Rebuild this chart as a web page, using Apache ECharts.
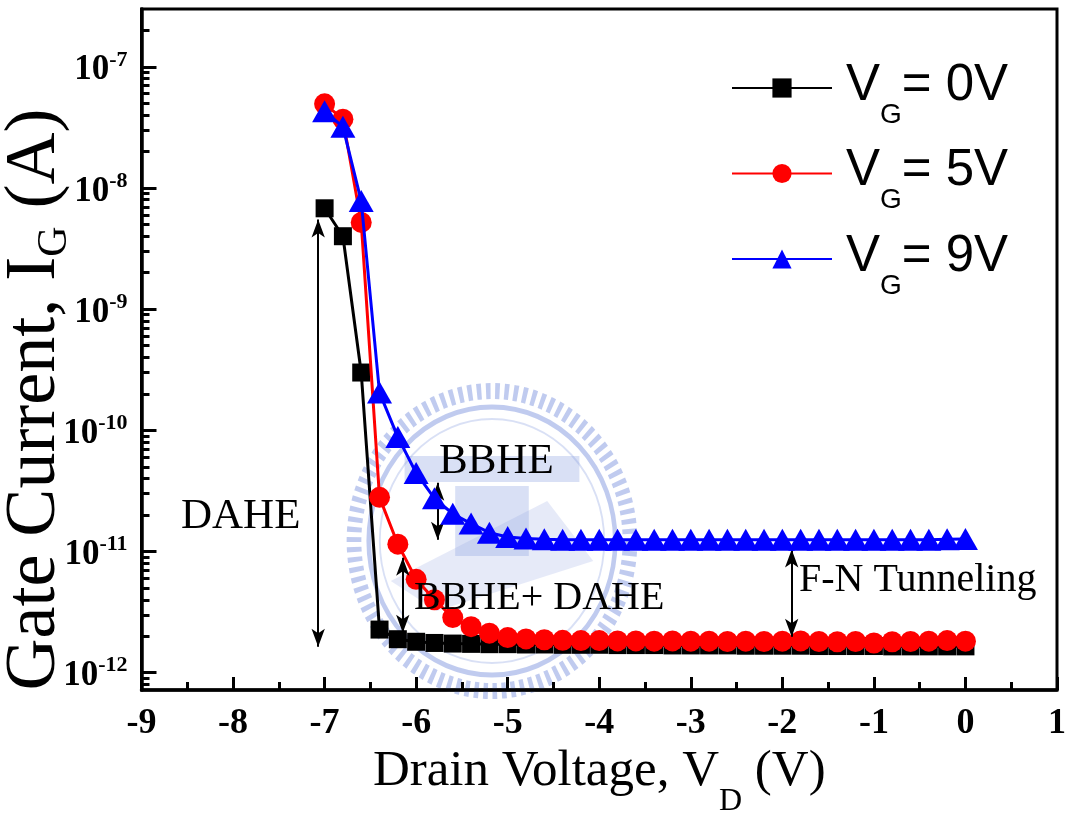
<!DOCTYPE html>
<html>
<head>
<meta charset="utf-8">
<script src="https://cdn.jsdelivr.net/npm/echarts@6/dist/echarts.min.js"></script>
<style>
html,body{margin:0;padding:0;background:#fff;}
#chart{width:1072px;height:820px;}
</style>
</head>
<body>
<div id="chart"></div>
<script>
// ---- data ----
const drainVoltage = [-7.0,-6.8,-6.6,-6.4,-6.2,-6.0,-5.8,-5.6,-5.4,-5.2,-5.0,-4.8,-4.6,-4.4,-4.2,-4.0,-3.8,-3.6,-3.4,-3.2,-3.0,-2.8,-2.6,-2.4,-2.2,-2.0,-1.8,-1.6,-1.4,-1.2,-1.0,-0.8,-0.6,-0.4,-0.2,0.0];
const igVG0 = [6.8e-9,4.0e-9,3.0e-10,2.27e-12,1.89e-12,1.80e-12,1.76e-12,1.74e-12,1.73e-12,1.72e-12,1.72e-12,1.71e-12,1.71e-12,1.70e-12,1.70e-12,1.70e-12,1.69e-12,1.69e-12,1.69e-12,1.68e-12,1.68e-12,1.68e-12,1.68e-12,1.67e-12,1.67e-12,1.67e-12,1.67e-12,1.66e-12,1.66e-12,1.66e-12,1.66e-12,1.65e-12,1.65e-12,1.65e-12,1.65e-12,1.65e-12];
const igVG5 = [4.95e-8,3.7e-8,5.2e-9,2.8e-11,1.15e-11,5.9e-12,4.0e-12,2.85e-12,2.4e-12,2.12e-12,1.95e-12,1.90e-12,1.87e-12,1.85e-12,1.84e-12,1.84e-12,1.83e-12,1.83e-12,1.82e-12,1.83e-12,1.82e-12,1.82e-12,1.81e-12,1.82e-12,1.81e-12,1.82e-12,1.83e-12,1.81e-12,1.80e-12,1.81e-12,1.76e-12,1.80e-12,1.81e-12,1.82e-12,1.84e-12,1.82e-12];
const igVG9 = [4.3e-8,3.2e-8,7.8e-9,2.05e-10,8.8e-11,4.45e-11,2.75e-11,2.05e-11,1.70e-11,1.43e-11,1.32e-11,1.28e-11,1.26e-11,1.25e-11,1.25e-11,1.25e-11,1.25e-11,1.25e-11,1.25e-11,1.25e-11,1.25e-11,1.25e-11,1.25e-11,1.25e-11,1.25e-11,1.25e-11,1.25e-11,1.25e-11,1.25e-11,1.25e-11,1.25e-11,1.25e-11,1.25e-11,1.25e-11,1.26e-11,1.27e-11];
const seriesNames = ['VG= 0V','VG= 5V','VG= 9V'];
const xTicks = [-9,-8,-7,-6,-5,-4,-3,-2,-1,0,1];
const yMajorTicks = [1e-12,1e-11,1e-10,1e-9,1e-8,1e-7];
const yMinorMultipliers = [2,3,4,5,6,7,8,9];
// annotation arrows: [x, yTop, yBottom]
const arrowDAHE = [-7.07, 5.5e-9, 1.64e-12];
const arrowBBHE = [-5.765, 3.7e-11, 1.25e-11];
const arrowBBHEDAHE = [-6.146, 8.9e-12, 2.14e-12];
const arrowFN = [-1.898, 1.04e-11, 1.98e-12];

const yMin = 7.2e-13, yMax = 3.0e-7;
const yMinor = [];
[-13,-12,-11,-10,-9,-8,-7].forEach(e => yMinorMultipliers.forEach(m => {
  const v = m * Math.pow(10, e);
  if (v > yMin && v < yMax) yMinor.push(v);
}));

const pair = ys => drainVoltage.map((x, i) => [x, ys[i]]);
const arrowLine = a => [{coord:[a[0], a[1]]},{coord:[a[0], a[2]]}];

const SERIF = 'Liberation Serif';
const SANS = 'Liberation Sans';

const chart = echarts.init(document.getElementById('chart'), null, {renderer:'canvas'});

const teethColor = 'rgba(140,160,225,0.55)';
const faint = 'rgba(140,160,225,0.33)';

chart.setOption({
  animation: false,
  backgroundColor: '#fff',
  grid: {left: 141.5, right: 15, top: 9, bottom: 130, show: true, borderColor: '#000', borderWidth: 3,
    containLabel: false, outerBoundsMode: 'none'},
  xAxis: {
    type: 'value', min: -9, max: 1, interval: 1,
    axisLine: {show: true, onZero: false, lineStyle: {color: '#000', width: 3.5}},
    axisTick: {show: true, inside: true, length: 13, lineStyle: {color: '#000', width: 3}},
    minorTick: {show: true, splitNumber: 2, length: 8, lineStyle: {color: '#000', width: 3}},
    splitLine: {show: false},
    axisLabel: {margin: 16, color: '#000', fontFamily: SERIF, fontWeight: 'bold', fontSize: 36,
      formatter: v => xTicks.includes(v) ? String(v) : ''},
    name: '{n|Drain Voltage, V}{s|D}{n| (V)}',
    nameLocation: 'middle', nameGap: 56, nameMoveOverlap: false,
    nameTextStyle: {rich: {
      n: {fontFamily: SERIF, fontSize: 51, color: '#000', lineHeight: 56, verticalAlign: 'top'},
      s: {fontFamily: SERIF, fontSize: 32, color: '#000', lineHeight: 34, padding: [40,0,0,0], verticalAlign: 'top'}
    }}
  },
  yAxis: [{
    type: 'log', min: yMin, max: yMax, logBase: 10,
    axisLine: {show: true, onZero: false, lineStyle: {color: '#000', width: 3.5}},
    axisTick: {show: true, inside: true, length: 15, customValues: yMajorTicks, lineStyle: {color: '#000', width: 3}},
    splitLine: {show: false},
    axisLabel: {margin: 14, customValues: yMajorTicks, color: '#000',
      formatter: v => '{b|10}{s|' + Math.round(Math.log10(v)) + '}',
      rich: {
        b: {fontFamily: SERIF, fontWeight: 'bold', fontSize: 35, color: '#000', lineHeight: 36, padding: [4,0,0,0], verticalAlign: 'top'},
        s: {fontFamily: SERIF, fontWeight: 'bold', fontSize: 22, color: '#000', lineHeight: 24, verticalAlign: 'top'}
      }},
    name: '{n|Gate Current, I}{s|G}{n| (A)}',
    nameLocation: 'middle', nameGap: 66, nameRotate: 90, nameMoveOverlap: false,
    nameTextStyle: {padding: [0, 100, 0, 0], rich: {
      n: {fontFamily: SERIF, fontSize: 72, color: '#000', lineHeight: 76, verticalAlign: 'top'},
      s: {fontFamily: SERIF, fontSize: 42, color: '#000', lineHeight: 46, padding: [34,0,0,0], verticalAlign: 'top'}
    }}
  }, {
    type: 'log', min: yMin, max: yMax, logBase: 10, position: 'left',
    axisLine: {show: false, onZero: false},
    axisTick: {show: true, inside: true, length: 8, customValues: yMinor, lineStyle: {color: '#000', width: 3}},
    axisLabel: {show: false},
    splitLine: {show: false}
  }],
  legend: {
    left: 726, top: 55, orient: 'vertical', itemWidth: 100, itemHeight: 24, itemGap: -1.5,
    data: seriesNames,
    formatter: name => '{v0|V}{g|G}{v|' + name.slice(2) + '}',
    textStyle: {rich: {
      v0: {fontFamily: SANS, fontSize: 51, color: '#000', lineHeight: 56, padding: [0,0,0,9], verticalAlign: 'top'},
      v: {fontFamily: SANS, fontSize: 51, color: '#000', lineHeight: 56, padding: [0,0,0,0], verticalAlign: 'top'},
      g: {fontFamily: SANS, fontSize: 28, color: '#000', lineHeight: 32, padding: [41,0,18,0], verticalAlign: 'top'}
    }}
  },
  graphic: [
    {type: 'group', x: 492, y: 541, scaleX: 0.92, z: 0, silent: true, children: [
      {type: 'circle', shape: {cx: 0, cy: 0, r: 150},
        style: {fill: 'none', stroke: teethColor, lineWidth: 16, lineDash: [5, 5]}},
      {type: 'circle', shape: {cx: 0, cy: 0, r: 134},
        style: {fill: 'none', stroke: teethColor, lineWidth: 5}},
      {type: 'circle', shape: {cx: 0, cy: 0, r: 122},
        style: {fill: 'none', stroke: faint, lineWidth: 2}},
      {type: 'rect', shape: {x: -95, y: -85, width: 190, height: 26}, style: {fill: faint}},
      {type: 'rect', shape: {x: -40, y: -55, width: 80, height: 70}, style: {fill: faint}},
      {type: 'polygon', shape: {points: [[-110, 40],[60, -40],[110, 20],[-60, 70]]},
        style: {fill: 'rgba(140,160,225,0.22)'}}
    ]},
    {type: 'text', z: 100, silent: true, left: 181, top: 495,
      style: {text: 'DAHE', font: '43px "Liberation Serif"', fill: '#000'}},
    {type: 'text', z: 100, silent: true, left: 439, top: 440,
      style: {text: 'BBHE', font: '43px "Liberation Serif"', fill: '#000'}},
    {type: 'text', z: 100, silent: true, left: 414, top: 578,
      style: {text: 'BBHE+ DAHE', font: '40px "Liberation Serif"', fill: '#000'}},
    {type: 'text', z: 100, silent: true, left: 799, top: 560,
      style: {text: 'F-N Tunneling', font: '40px "Liberation Serif"', fill: '#000'}}
  ],
  series: [
    {name: seriesNames[0], type: 'line', data: pair(igVG0), symbol: 'rect', symbolSize: 18,
      itemStyle: {color: '#000'}, lineStyle: {color: '#000', width: 3}, z: 3,
      markLine: {silent: true, symbol: ['arrow','arrow'], symbolSize: [10, 18], animation: false,
        lineStyle: {color: '#000', width: 2, type: 'solid'}, label: {show: false},
        data: [arrowLine(arrowDAHE), arrowLine(arrowBBHE), arrowLine(arrowBBHEDAHE), arrowLine(arrowFN)]}},
    {name: seriesNames[1], type: 'line', data: pair(igVG5), symbol: 'circle', symbolSize: 21,
      itemStyle: {color: '#ff0000'}, lineStyle: {color: '#ff0000', width: 3}, z: 4},
    {name: seriesNames[2], type: 'line', data: pair(igVG9), symbol: 'triangle', symbolSize: [25, 22],
      itemStyle: {color: '#0000ff'}, lineStyle: {color: '#0000ff', width: 3}, z: 5}
  ]
});
</script>
</body>
</html>
